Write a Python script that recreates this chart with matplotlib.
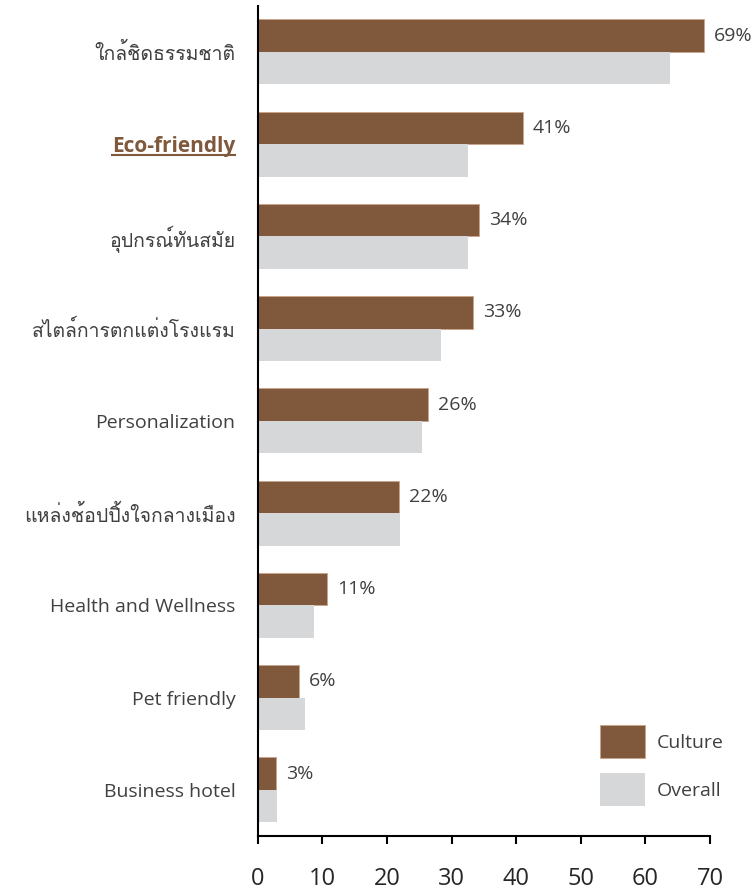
import matplotlib
matplotlib.use("Agg")
import matplotlib.pyplot as plt
import matplotlib.font_manager as fm
from matplotlib.ft2font import FT2Font
from matplotlib.lines import Line2D
import numpy as np

categories = ["ใกล้ชิดธรรมชาติ", "Eco-friendly", "อุปกรณ์ทันสมัย", "สไตล์การตกแต่งโรงแรม",
              "Personalization", "แหล่งช้อปปิ้งใจกลางเมือง", "Health and Wellness",
              "Pet friendly", "Business hotel"]
culture = [69, 41, 34.3, 33.4, 26.3, 21.9, 10.8, 6.4, 2.9]
culture_labels = ["69%", "41%", "34%", "33%", "26%", "22%", "11%", "6%", "3%"]
overall = [63.8, 32.6, 32.6, 28.4, 25.4, 22.1, 8.8, 7.4, 3.0]
xticks = [0, 10, 20, 30, 40, 50, 60, 70]

BROWN = "#80593c"
GREY = "#d6d7d9"
TEXT = "#404040"


# look for some installed font that has thai glyphs
def find_thai_font():
    for f in fm.fontManager.ttflist:
        try:
            if 0x0E01 in FT2Font(f.fname).get_charmap():
                return f.name
        except Exception:
            continue
    return None


thai = find_thai_font()
fams = ["Open Sans"] + ([thai] if thai else []) + ["DejaVu Sans"]
plt.rcParams["font.family"] = fams

fig = plt.figure(figsize=(7.51, 8.89), dpi=100)
ax = fig.add_axes([0.343, 0.0596, 0.6025, 0.934])

y = np.arange(len(categories))
h = 0.352
ax.barh(y - h / 2, culture, height=h, color=BROWN, edgecolor="#c9a58c", linewidth=0.7, label="Culture")
ax.barh(y + h / 2, overall, height=h, color=GREY, label="Overall")

for yi, v, s in zip(y, culture, culture_labels):
    ax.annotate(s, (v, yi - h / 2), xytext=(10, 0), textcoords="offset pixels",
                va="center", ha="left", fontsize=14, color=TEXT)

ax.set_ylim(len(categories) - 0.5, -0.5)
ax.set_xlim(0, 70)
ax.set_xticks(xticks)
ax.set_yticks(y)
ax.set_yticklabels(categories)
ax.tick_params(axis="y", length=0, pad=16, labelsize=14, labelcolor=TEXT)
ax.tick_params(axis="x", length=6, width=1.5, pad=16, labelsize=17, labelcolor="#262626", direction="out")
for s in ["top", "right"]:
    ax.spines[s].set_visible(False)
ax.spines["left"].set_linewidth(1.5)
ax.spines["bottom"].set_linewidth(1.5)

eco = ax.get_yticklabels()[1]
eco.set_color(BROWN)
eco.set_fontweight("bold")
eco.set_fontsize(15)

ax.legend(loc="upper left", bbox_to_anchor=(600 / 751, 1 - 725 / 889), bbox_transform=fig.transFigure,
          frameon=False, fontsize=14, handlelength=2.32, handleheight=2.27, labelspacing=0.75,
          handletextpad=0.6, borderpad=0, borderaxespad=0, labelcolor=TEXT)

# underline for Eco-friendly label
fig.canvas.draw()
bb = eco.get_window_extent()
uy = bb.y0 + 0.1 * bb.height
fig.add_artist(Line2D([bb.x0, bb.x1], [uy, uy], transform=None, color=BROWN, linewidth=1.5))

fig.savefig("out.png", dpi=100)
